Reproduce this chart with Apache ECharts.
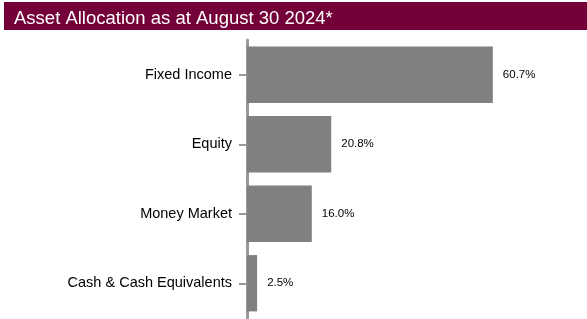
<!DOCTYPE html>
<html>
<head>
<meta charset="utf-8">
<script src="https://cdn.jsdelivr.net/npm/echarts@6/dist/echarts.min.js"></script>
<style>
  html, body { margin: 0; padding: 0; background: #fff; }
  #chart { width: 587px; height: 319px; }
</style>
</head>
<body>
<div id="chart"></div>
<script>
// asset classes, top to bottom
var categories = ['Fixed Income', 'Equity', 'Money Market', 'Cash & Cash Equivalents']
var weights = [60.7, 20.8, 16.0, 2.5]
var titleText = 'Asset Allocation as at August 30 2024*'

var chart = echarts.init(document.getElementById('chart'))

var option = {
  animation: false,
  graphic: [
    {
      type: 'rect',
      left: 4,
      top: 2,
      shape: { width: 583, height: 28 },
      style: { fill: '#730038' },
      z: 0
    }
  ],
  title: {
    text: titleText,
    left: 9,
    top: 4,
    textStyle: {
      color: '#ffffff',
      fontFamily: 'Liberation Sans',
      fontSize: 18.5,
      fontWeight: 'normal'
    },
    z: 10
  },
  grid: {
    left: 247,
    right: 16,
    top: 40,
    bottom: 1
  },
  xAxis: {
    type: 'value',
    min: 0,
    max: 80,
    show: false
  },
  yAxis: {
    type: 'category',
    data: categories,
    inverse: true,
    axisLine: { show: true, lineStyle: { color: '#999999', width: 3 } },
    axisTick: { show: true, alignWithLabel: true, length: 8, lineStyle: { color: '#999999', width: 2 } },
    axisLabel: {
      color: '#000000',
      fontFamily: 'Liberation Sans',
      fontSize: 14.5,
      margin: 15
    },
    splitLine: { show: false }
  },
  series: [
    {
      type: 'bar',
      data: weights,
      barCategoryGap: '19%',
      itemStyle: { color: '#808080' },
      label: {
        show: true,
        position: 'right',
        distance: 10,
        color: '#000000',
        fontFamily: 'Liberation Sans',
        fontSize: 11.5,
        formatter: function(p) {
          return p.value.toFixed(1) + '%'
        }
      }
    }
  ]
}

chart.setOption(option)
</script>
</body>
</html>
